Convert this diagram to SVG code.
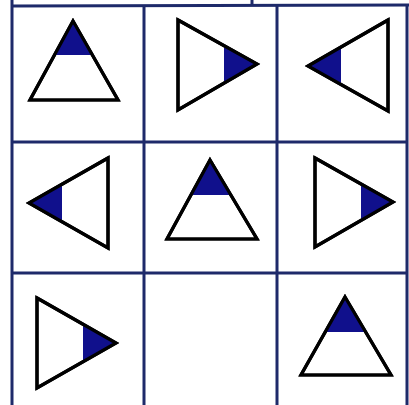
<svg xmlns="http://www.w3.org/2000/svg" width="409" height="405" viewBox="0 0 409 405">
<style>
.grid{stroke:#1e2a6a;stroke-width:3;fill:none;stroke-linecap:butt}
.tri{fill:#fff;stroke:#000;stroke-width:3.2;stroke-linejoin:miter}
.cap{fill:#10108c;stroke:none}
</style>
<rect x="0" y="0" width="409" height="405" fill="#fff"/>
<g id="grid" class="grid">
<line x1="12" y1="0" x2="12" y2="405"/>
<line x1="144" y1="6" x2="144" y2="405"/>
<line x1="277" y1="6" x2="277" y2="405"/>
<line x1="407" y1="5" x2="407" y2="405"/>
<line x1="252" y1="0" x2="252" y2="6"/>
<line x1="12" y1="6" x2="409" y2="5"/>
<line x1="12" y1="142" x2="407" y2="142"/>
<line x1="12" y1="273" x2="407" y2="273"/>
</g>
<g id="cell1">
<polygon class="tri" points="73,21 118,100 30,100"/>
<polygon class="cap" points="73,22.5 92.4,55 54.5,55"/>
<polygon points="73,21 118,100 30,100" fill="none" stroke="#000" stroke-width="3.2"/>
</g>
<g id="cell2">
<polygon class="tri" points="178,20 257,64 178,110"/>
<polygon class="cap" points="224,45.6 257,64 224,83.2"/>
<polygon points="178,20 257,64 178,110" fill="none" stroke="#000" stroke-width="3.2"/>
</g>
<g id="cell3">
<polygon class="tri" points="388,20 308,66 388,111"/>
<polygon class="cap" points="308,66 341,47 341,84.6"/>
<polygon points="388,20 308,66 388,111" fill="none" stroke="#000" stroke-width="3.2"/>
</g>
<g id="cell4">
<polygon class="tri" points="108,158 29,203 108,248"/>
<polygon class="cap" points="29,203 62,184.2 62,221.8"/>
<polygon points="108,158 29,203 108,248" fill="none" stroke="#000" stroke-width="3.2"/>
</g>
<g id="cell5">
<polygon class="tri" points="210,160 257,239 167,239"/>
<polygon class="cap" points="210,160 230.8,195 191,195"/>
<polygon points="210,160 257,239 167,239" fill="none" stroke="#000" stroke-width="3.2"/>
</g>
<g id="cell6">
<polygon class="tri" points="315,158 393,202 315,247"/>
<polygon class="cap" points="361,184 393,202 361,220.5"/>
<polygon points="315,158 393,202 315,247" fill="none" stroke="#000" stroke-width="3.2"/>
</g>
<g id="cell7">
<polygon class="tri" points="37,298 116,343 37,388"/>
<polygon class="cap" points="83,324.2 116,343 83,361.8"/>
<polygon points="37,298 116,343 37,388" fill="none" stroke="#000" stroke-width="3.2"/>
</g>
<g id="cell8"></g>
<g id="cell9">
<polygon class="tri" points="345,297 391,375 301,375"/>
<polygon class="cap" points="345,297 365.7,332 325.2,332"/>
<polygon points="345,297 391,375 301,375" fill="none" stroke="#000" stroke-width="3.2"/>
</g>
</svg>
